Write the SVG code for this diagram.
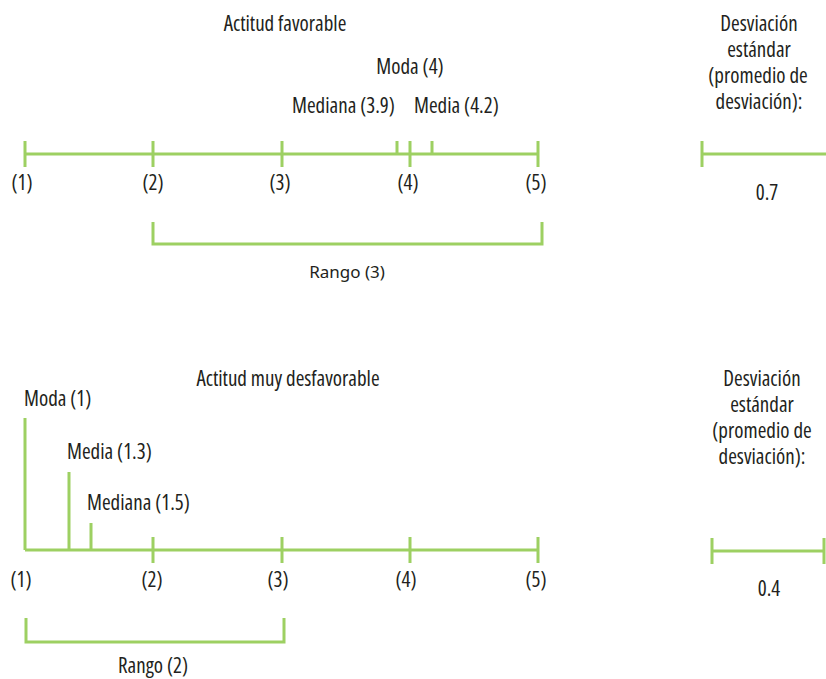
<svg xmlns="http://www.w3.org/2000/svg" width="826" height="679" viewBox="0 0 826 679">
<style>
.ln{stroke:#9dd062;stroke-width:3;fill:none;stroke-linecap:butt}
.t{font-family:"Open Sans","Liberation Sans",sans-serif;font-stretch:75%;font-weight:370;font-size:21px;fill:#231f20}
.m{text-anchor:middle}
.r{font-family:"Noto Sans","Open Sans",sans-serif;font-size:17px;fill:#231f20;text-anchor:middle}
</style>
<rect width="826" height="679" fill="#ffffff"/>
<g id="connectors">
  <path class="ln" d="M25 154H539M25 141V167M153 141V167M282 141V167M410 141V167M538 141V167M397 141V154M432 141V154"/>
  <path class="ln" d="M153 222V244H542V222"/>
  <path class="ln" d="M702 141V167M702 154H826"/>
  <path class="ln" d="M25 550H539M25 418V550M69 472V550M91 523V550M153 537V563M282 537V563M410 537V563M538 537V563"/>
  <path class="ln" d="M26 618V642H284V618"/>
  <path class="ln" d="M712 538V564M712 551H824M824 538V564"/>
</g>
<g id="top-title"><text class="t m" x="285" y="31">Actitud favorable</text></g>
<g id="top-moda"><text class="t m" x="410" y="74">Moda (4)</text></g>
<g id="top-mediana"><text class="t" x="292" y="113">Mediana (3.9)</text></g>
<g id="top-media"><text class="t" x="414" y="113">Media (4.2)</text></g>
<g id="top-scale">
  <text class="t m" x="22" y="190">(1)</text>
  <text class="t m" x="153" y="190">(2)</text>
  <text class="t m" x="280" y="190">(3)</text>
  <text class="t m" x="408" y="190">(4)</text>
  <text class="t m" x="536" y="190">(5)</text>
</g>
<g id="top-rango"><text class="r" x="347" y="278">Rango (3)</text></g>
<g id="top-desv">
  <text class="t m" x="759" y="31">Desviación</text>
  <text class="t m" x="759" y="57">estándar</text>
  <text class="t m" x="758" y="83">(promedio de</text>
  <text class="t m" x="759" y="109">desviación):</text>
  <text class="t m" x="767" y="200">0.7</text>
</g>
<g id="bottom-title"><text class="t m" x="288" y="386">Actitud muy desfavorable</text></g>
<g id="bottom-moda"><text class="t" x="24" y="406">Moda (1)</text></g>
<g id="bottom-media"><text class="t" x="67" y="459">Media (1.3)</text></g>
<g id="bottom-mediana"><text class="t" x="87" y="510">Mediana (1.5)</text></g>
<g id="bottom-scale">
  <text class="t m" x="21" y="587">(1)</text>
  <text class="t m" x="152" y="587">(2)</text>
  <text class="t m" x="278" y="587">(3)</text>
  <text class="t m" x="406" y="587">(4)</text>
  <text class="t m" x="536" y="587">(5)</text>
</g>
<g id="bottom-rango"><text class="t m" x="153" y="673">Rango (2)</text></g>
<g id="bottom-desv">
  <text class="t m" x="762" y="386">Desviación</text>
  <text class="t m" x="762" y="412">estándar</text>
  <text class="t m" x="762" y="438">(promedio de</text>
  <text class="t m" x="762" y="464">desviación):</text>
  <text class="t m" x="769" y="596">0.4</text>
</g>
</svg>
